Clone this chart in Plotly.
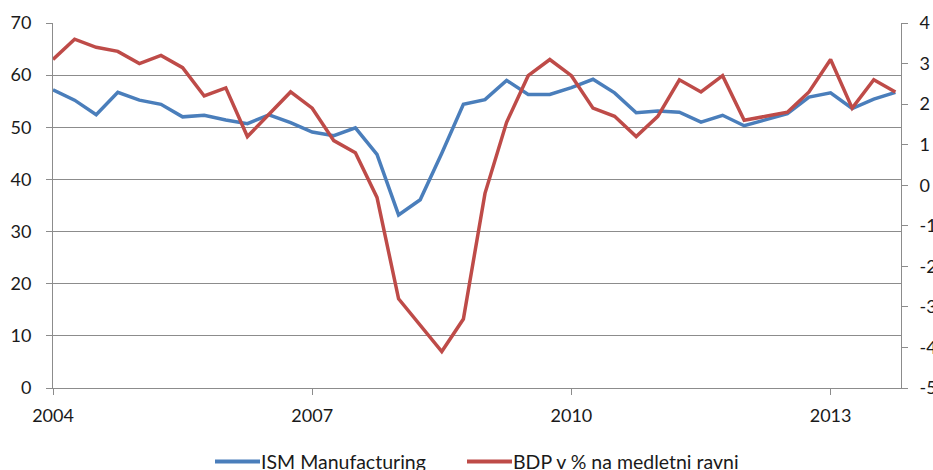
import pandas as pd
import plotly.graph_objects as go

# Quarterly observations, 2004 Q1 - 2013 Q4
quarters = pd.period_range("2004Q1", "2013Q4", freq="Q")

ism_manufacturing = [
    57.2, 55.2, 52.4, 56.7, 55.2, 54.4, 52.0, 52.3, 51.4, 50.7,
    52.4, 50.9, 49.1, 48.4, 49.9, 44.8, 33.2, 36.1, 45.0, 54.4,
    55.3, 59.0, 56.3, 56.3, 57.6, 59.2, 56.6, 52.8, 53.1, 52.9,
    51.0, 52.3, 50.3, 51.5, 52.6, 55.8, 56.6, 53.6, 55.4, 56.7,
]

bdp_yoy = [
    3.1, 3.6, 3.4, 3.3, 3.0, 3.2, 2.9, 2.2, 2.4, 1.2,
    1.75, 2.3, 1.9, 1.1, 0.8, -0.3, -2.8, -3.45, -4.1, -3.3,
    -0.2, 1.55, 2.7, 3.1, 2.7, 1.9, 1.7, 1.2, 1.7, 2.6,
    2.3, 2.7, 1.6, 1.7, 1.8, 2.3, 3.1, 1.9, 2.6, 2.3,
]

series_names = ["ISM Manufacturing", "BDP v % na medletni ravni"]
year_ticks = [2004, 2007, 2010, 2013]
left_ticks = [0, 10, 20, 30, 40, 50, 60, 70]
right_ticks = [-5, -4, -3, -2, -1, 0, 1, 2, 3, 4]

x = [q.year + (q.quarter - 1) / 4 for q in quarters]

BLUE = "#4A7EBB"
RED = "#BE4B48"
GRID = "#8C8C8C"
FONT = "Lato, 'Open Sans', sans-serif"
FS = 18
LW = 3.5

W, H = 933, 470
M_L, M_R, M_T, M_B = 53, 32, 23, 82
PLOT_W = W - M_L - M_R
PLOT_H = H - M_T - M_B


def px_to_paper(px, py):
    """Convert page pixel coordinates to paper coordinates of the plot area."""
    return (px - M_L) / PLOT_W, (H - M_B - py) / PLOT_H


fig = go.Figure()
fig.add_trace(go.Scatter(
    x=x, y=ism_manufacturing, mode="lines", name=series_names[0],
    line=dict(color=BLUE, width=LW), yaxis="y", showlegend=False,
))
fig.add_trace(go.Scatter(
    x=x, y=bdp_yoy, mode="lines", name=series_names[1],
    line=dict(color=RED, width=LW), yaxis="y2", showlegend=False,
))

# Legend below the plot: a 45 px line key followed by the series name
legend_y = 461.5
legend_items = [(215, BLUE, series_names[0]), (467, RED, series_names[1])]
shapes, annotations = [], []
for key_x, color, label in legend_items:
    x0, y0 = px_to_paper(key_x, legend_y)
    x1, _ = px_to_paper(key_x + 45, legend_y)
    shapes.append(dict(
        type="line", xref="paper", yref="paper", x0=x0, x1=x1, y0=y0, y1=y0,
        line=dict(color=color, width=4),
    ))
    annotations.append(dict(
        xref="paper", yref="paper", x=x1, y=y0, xanchor="left", yanchor="middle",
        text=label, showarrow=False, font=dict(size=19.5), xshift=-1,
    ))

fig.update_layout(
    width=W, height=H,
    margin=dict(l=M_L, r=M_R, t=M_T, b=M_B, autoexpand=False),
    paper_bgcolor="white", plot_bgcolor="white",
    font=dict(family=FONT, size=FS, color="#1a1a1a"),
    showlegend=False,
    shapes=shapes, annotations=annotations,
    xaxis=dict(
        range=[2004, 2004 + 39.26 / 4], tickvals=year_ticks,
        ticktext=[str(v) for v in year_ticks],
        showgrid=False, zeroline=False, automargin=False,
        showline=True, linecolor=GRID, linewidth=1,
        ticks="outside", ticklen=6, tickcolor=GRID,
        tickfont=dict(size=FS), ticklabelstandoff=5,
    ),
    yaxis=dict(
        range=[0, 70], tickvals=left_ticks,
        showgrid=True, gridcolor=GRID, gridwidth=1, zeroline=False,
        automargin=False,
        showline=True, linecolor=GRID, linewidth=1,
        ticks="outside", ticklen=6, tickcolor=GRID,
        tickfont=dict(size=FS), ticklabelstandoff=11,
    ),
    yaxis2=dict(
        range=[-5, 4], tickvals=right_ticks,
        ticktext=[str(v) for v in right_ticks],
        overlaying="y", side="right",
        showgrid=False, zeroline=False, automargin=False,
        showline=True, linecolor=GRID, linewidth=1,
        ticks="outside", ticklen=6, tickcolor=GRID,
        tickfont=dict(size=FS), ticklabelstandoff=8,
    ),
)

fig.write_html("out.html")
